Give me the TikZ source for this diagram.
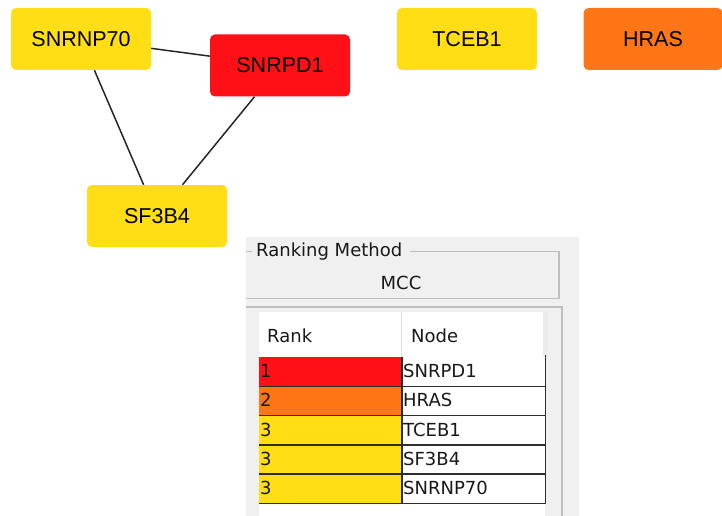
\documentclass[tikz,border=0pt]{standalone}
\usepackage{fontspec}
\setmainfont{Liberation Sans}
\newfontfamily\panelfont{DejaVu Sans}
\definecolor{nyellow}{RGB}{255,222,21}
\definecolor{nred}{RGB}{255,16,22}
\definecolor{norange}{RGB}{255,118,22}
\definecolor{panelgray}{RGB}{240,240,240}
\definecolor{etch}{RGB}{190,190,190}
\definecolor{rowline}{RGB}{45,45,45}
\begin{document}
\begin{tikzpicture}[x=1pt,y=-1pt,
  gene/.style={rounded corners=5pt, minimum width=140pt, minimum height=62pt,
    inner sep=0pt, font=\fontsize{21.5}{24}\selectfont, text=black},
  edge/.style={line width=1.5pt, draw=black!85},
  ptext/.style={font=\panelfont\fontsize{18}{20}\selectfont, text=black!90, inner sep=0pt},
  ctext/.style={font=\panelfont\fontsize{18}{20}\selectfont, text=black!90, inner sep=0pt, anchor=west},
  cell/.style={minimum width=143pt, minimum height=29.3pt, inner sep=0pt, anchor=north west}
]
\useasboundingbox (0,0) rectangle (722,516);
% graph
\node[gene, fill=nyellow] (snrnp70) at (81,39) {SNRNP70};
\node[gene, fill=nred] (snrpd1) at (280,65.5) {SNRPD1};
\node[gene, fill=nyellow] (sf3b4) at (157,216) {SF3B4};
\node[gene, fill=nyellow] (tceb1) at (467,39) {TCEB1};
\node[gene, fill=norange, minimum width=139pt] (hras) at (653,39) {HRAS};
\draw[edge] (snrnp70) -- (snrpd1);
\draw[edge] (snrnp70) -- (sf3b4);
\draw[edge] (snrpd1) -- (sf3b4);
% panel
\fill[panelgray] (246,237) rectangle (579,516);
\draw[etch, line width=1.6pt] (246,251.5) -- (252,251.5);
\draw[etch, line width=1.6pt] (410,251.5) -- (559,251.5) -- (559,298.5) -- (246,298.5);
\node[ptext, anchor=west] (rmtitle) at (256,252) {Ranking Method};
\node[ptext] (mcc) at (401,283) {MCC};
\draw[etch, line width=1.6pt] (246,307) -- (562,307) -- (562,516);
% table
\fill[white] (259,312) rectangle (545,516);
\fill[black!8] (543,312) rectangle (548,357);
\draw[black!12, line width=1pt] (401,312) -- (401,357);
\node[ptext, anchor=west] (hrank) at (267,336) {Rank};
\node[ptext, anchor=west] (hnode) at (411,336) {Node};
\foreach \i/\c/\r/\n in {0/nred/1/SNRPD1, 1/norange/2/HRAS, 2/nyellow/3/TCEB1, 3/nyellow/3/SF3B4, 4/nyellow/3/SNRNP70} {
  \node[cell, fill=\c] (rc\i) at (259,357+29.3*\i) {};
  \node[cell, fill=white] (nc\i) at (402,357+29.3*\i) {};
  \node[ctext] (rt\i) at (260,371+29.3*\i) {\r};
  \node[ctext] (nt\i) at (403,371+29.3*\i) {\n};
}
\foreach \i in {1,...,5} {
  \draw[rowline, line width=1.6pt] (259,357+29.3*\i) -- (546,357+29.3*\i);
}
\draw[rowline, line width=1.6pt] (402,357) -- (402,503.5);
\draw[rowline, line width=1.6pt] (545.5,355) -- (545.5,503.5);
\end{tikzpicture}
\end{document}
